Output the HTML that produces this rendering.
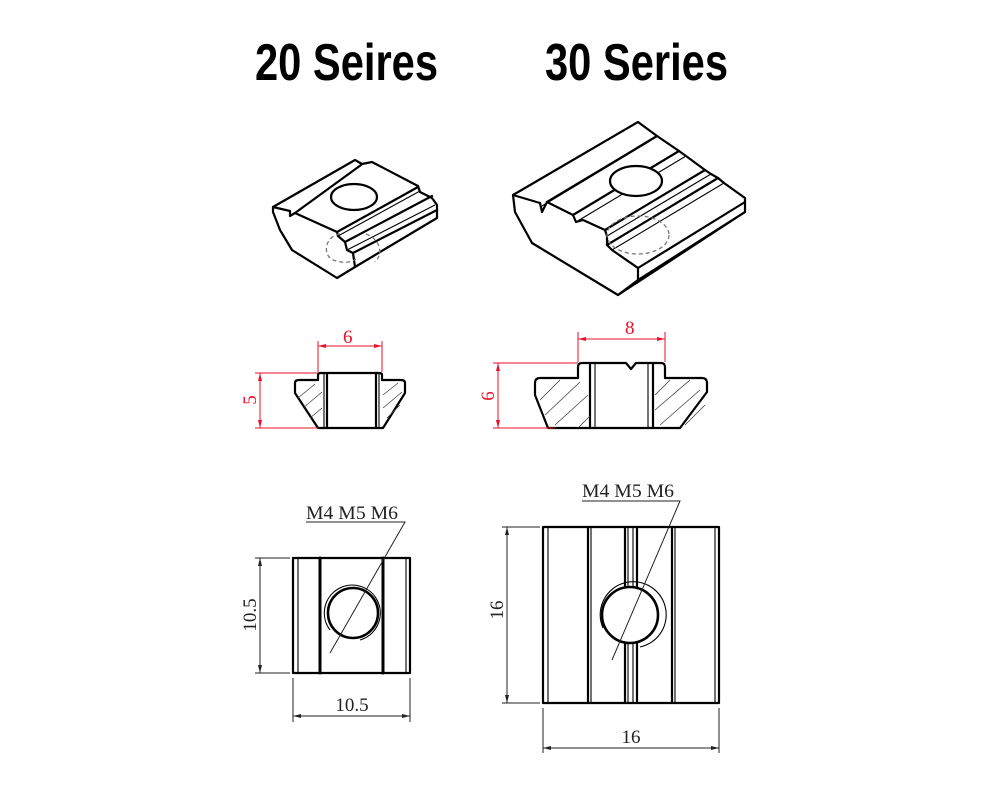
<!DOCTYPE html>
<html><head><meta charset="utf-8"><style>
html,body{margin:0;padding:0;background:#fff;width:1000px;height:789px;overflow:hidden}
svg{display:block}
.o{fill:none;stroke:#000;stroke-width:2.2;stroke-linejoin:round;stroke-linecap:round}
.t{fill:none;stroke:#000;stroke-width:1.1}
.h{fill:none;stroke:#444;stroke-width:0.8}
.d{fill:none;stroke:#777;stroke-width:1.3;stroke-dasharray:4 3}
.r{fill:none;stroke:#e8102a;stroke-width:1}
.k{fill:none;stroke:#222;stroke-width:1}
.rt{fill:#e8102a;font-family:"Liberation Serif",serif;font-size:19px}
.kt{fill:#222;font-family:"Liberation Serif",serif;font-size:19px}
.ttl{font-family:"Liberation Sans",sans-serif;font-weight:bold;font-size:52px;fill:#000}
</style></head><body>
<svg width="1000" height="789" viewBox="0 0 1000 789" xmlns="http://www.w3.org/2000/svg">
<text class="ttl" x="255" y="80" textLength="183" lengthAdjust="spacingAndGlyphs">20 Seires</text>
<text class="ttl" x="545" y="80" textLength="183" lengthAdjust="spacingAndGlyphs">30 Series</text>

<!-- left iso -->
<path class="o" d="M273,207 L355,160 L362,164 L372,162 L418,186 L420,192 L432,198 L437,205 L437,218 L355,267 L337,278 L292,250 L280,230 L273,212 Z"/>
<polyline class="o" points="273,207 290,211 290,216 295,213 361,165"/>
<polyline class="o" points="295,213 337,232 418,187"/>
<polyline class="t" points="338,236 420,191"/>
<polyline class="o" points="337,232 338,236 345,242 347,250 353,253 355,267"/>
<polyline class="o" points="345,242 432,196"/>
<polyline class="t" points="347,250 435,205"/>
<polyline class="o" points="353,253 437,210"/>
<ellipse class="o" cx="354" cy="197" rx="23" ry="13"/>
<path class="d" d="M340,234 C325,236 322,255 333,260 C345,264 352,262 356,259 M366,234 C378,238 385,252 375,262"/>

<!-- right iso -->
<path class="o" d="M513,195 L638,122 L657,136 L679,151 L686,156 L705,170 L711,174 L718,178 L724,183 L745,198 L745,212 L618,295 L532,243 L515,212 Z"/>
<polyline class="o" points="513,195 540,203 542,212 547,202 573,215 576,222 583,220 605,230 607,236 607,245 612,250 638,268 638,280 618,295"/>
<line class="o" x1="547" y1="202" x2="657" y2="136"/>
<line class="t" x1="542" y1="206" x2="650" y2="141"/>
<line class="o" x1="573" y1="215" x2="679" y2="151"/>
<line class="t" x1="576" y1="222" x2="686" y2="156"/>
<line class="o" x1="605" y1="230" x2="705" y2="170"/>
<line class="t" x1="607" y1="236" x2="711" y2="174"/>
<line class="o" x1="607" y1="245" x2="718" y2="178"/>
<line class="t" x1="612" y1="250" x2="724" y2="183"/>
<line class="o" x1="638" y1="268" x2="745" y2="202"/>
<line class="o" x1="638" y1="280" x2="745" y2="212"/>
<ellipse cx="636" cy="181" rx="26" ry="15" fill="#fff" stroke="#000" stroke-width="2.2"/>
<ellipse class="d" cx="638" cy="235" rx="31" ry="19"/>

<!-- left section -->
<path class="o" d="M295,383 Q295,380 299,380 L318,380 L318,375 Q318,373 321,373 L379,373 Q382,373 382,375 L382,380 L401,380 Q405,380 405,383 L405,393 L383,428 L318,428 L295,393 Z"/>
<line class="o" x1="327" y1="373" x2="327" y2="428"/><line class="t" x1="324" y1="373" x2="324" y2="428"/>
<line class="o" x1="376" y1="373" x2="376" y2="428"/><line class="t" x1="379" y1="373" x2="379" y2="428"/>
<path class="h" d="M298,398 L315,384 M303,408 L322,392 M310,418 L322,408 M383,395 L398,383 M383,408 L402,392 M387,418 L400,405"/>
<polyline class="r" points="318,372 318,341"/><polyline class="r" points="382,372 382,341"/>
<line class="r" x1="318" y1="346" x2="382" y2="346"/>
<path d="M318,346 l8,-2 v4z M382,346 l-8,-2 v4z" fill="#e8102a"/>
<text class="rt" x="343" y="343">6</text>
<line class="r" x1="255" y1="373" x2="318" y2="373"/><line class="r" x1="255" y1="428" x2="318" y2="428"/>
<line class="r" x1="260" y1="373" x2="260" y2="428"/>
<path d="M260,373 l-2,8 h4z M260,428 l-2,-8 h4z" fill="#e8102a"/>
<text class="rt" transform="translate(256,400) rotate(-90)" text-anchor="middle">5</text>

<!-- right section -->
<path class="o" d="M535,383 Q535,378 540,378 L578,378 L578,367 Q578,363 582,363 L626,363 L631,369 L636,363 L661,363 Q665,363 665,367 L665,378 L702,378 Q707,378 707,383 L707,392 L680,428 L548,428 L535,395 Z"/>
<line class="o" x1="590" y1="363" x2="590" y2="428"/><line class="t" x1="595" y1="363" x2="595" y2="428"/>
<line class="o" x1="653" y1="363" x2="653" y2="428"/><line class="t" x1="648" y1="363" x2="648" y2="428"/>
<path class="h" d="M540,400 L560,380 M545,415 L580,382 M555,425 L588,395 M578,428 L590,416 M655,395 L670,380 M655,410 L690,380 M660,425 L700,390 M685,425 L705,405"/>
<polyline class="r" points="578,362 578,332"/><polyline class="r" points="665,362 665,332"/>
<line class="r" x1="578" y1="339" x2="665" y2="339"/>
<path d="M578,339 l8,-2 v4z M665,339 l-8,-2 v4z" fill="#e8102a"/>
<text class="rt" x="625" y="334">8</text>
<line class="r" x1="493" y1="363" x2="578" y2="363"/><line class="r" x1="493" y1="428" x2="555" y2="428"/>
<line class="r" x1="498" y1="363" x2="498" y2="428"/>
<path d="M498,363 l-2,8 h4z M498,428 l-2,-8 h4z" fill="#e8102a"/>
<text class="rt" transform="translate(494,396) rotate(-90)" text-anchor="middle">6</text>

<!-- left top view -->
<rect class="o" x="293" y="558" width="117" height="115"/>
<line class="t" x1="298" y1="558" x2="298" y2="673"/>
<line class="o" x1="320" y1="558" x2="320" y2="673" style="stroke-width:3"/>
<line class="o" x1="383" y1="558" x2="383" y2="673" style="stroke-width:3"/>
<line class="t" x1="406" y1="558" x2="406" y2="673"/>
<circle class="o" cx="353" cy="613" r="25" style="stroke-width:2.6"/>
<path class="t" d="M330,630 A28,28 0 1,1 360,640"/>
<text class="kt" x="306" y="519" textLength="92" lengthAdjust="spacingAndGlyphs">M4 M5 M6</text>
<polyline class="k" points="306,522 405,522 330,653"/>
<line class="k" x1="255" y1="558" x2="290" y2="558"/><line class="k" x1="255" y1="673" x2="290" y2="673"/>
<line class="k" x1="260" y1="558" x2="260" y2="673"/>
<path d="M260,558 l-2,8 h4z M260,673 l-2,-8 h4z" fill="#222"/>
<text class="kt" transform="translate(256,615) rotate(-90)" text-anchor="middle">10.5</text>
<line class="k" x1="293" y1="678" x2="293" y2="722"/><line class="k" x1="410" y1="678" x2="410" y2="722"/>
<line class="k" x1="293" y1="716" x2="410" y2="716"/>
<path d="M293,716 l8,-2 v4z M410,716 l-8,-2 v4z" fill="#222"/>
<text class="kt" x="352" y="711" text-anchor="middle">10.5</text>

<!-- right top view -->
<rect class="o" x="543" y="527" width="176" height="176"/>
<line class="t" x1="548" y1="527" x2="548" y2="703"/>
<line class="o" x1="588" y1="527" x2="588" y2="703"/><line class="t" x1="591" y1="527" x2="591" y2="703"/>
<line class="o" x1="625" y1="527" x2="625" y2="703"/><line class="t" x1="628" y1="527" x2="628" y2="703"/>
<line class="t" x1="633" y1="527" x2="633" y2="703"/><line class="o" x1="637" y1="527" x2="637" y2="703"/>
<line class="o" x1="672" y1="527" x2="672" y2="703"/><line class="t" x1="675" y1="527" x2="675" y2="703"/>
<line class="t" x1="715" y1="527" x2="715" y2="703"/>
<circle cx="630" cy="615" r="28" fill="#fff" stroke="#000" stroke-width="2.6"/>
<path class="t" d="M603,628 A33,33 0 1,1 640,647"/>
<text class="kt" x="582" y="497" textLength="92" lengthAdjust="spacingAndGlyphs">M4 M5 M6</text>
<polyline class="k" points="582,501 680,501 612,660"/>
<line class="k" x1="502" y1="527" x2="540" y2="527"/><line class="k" x1="502" y1="703" x2="540" y2="703"/>
<line class="k" x1="507" y1="527" x2="507" y2="703"/>
<path d="M507,527 l-2,8 h4z M507,703 l-2,-8 h4z" fill="#222"/>
<text class="kt" transform="translate(503,610) rotate(-90)" text-anchor="middle">16</text>
<line class="k" x1="543" y1="708" x2="543" y2="753"/><line class="k" x1="719" y1="708" x2="719" y2="753"/>
<line class="k" x1="543" y1="748" x2="719" y2="748"/>
<path d="M543,748 l8,-2 v4z M719,748 l-8,-2 v4z" fill="#222"/>
<text class="kt" x="631" y="743" text-anchor="middle">16</text>
</svg>
</body></html>
